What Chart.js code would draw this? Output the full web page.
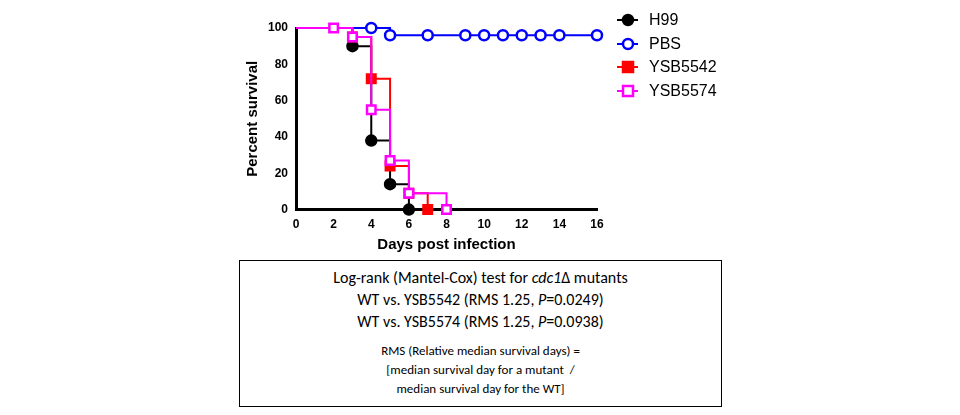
<!DOCTYPE html>
<html><head><meta charset="utf-8">
<script src="https://cdn.jsdelivr.net/npm/chart.js@4"></script>
<style>
body{margin:0;background:#fff;width:960px;height:415px;position:relative;font-family:Calibri,Carlito,"Liberation Sans",Arial,sans-serif;}
#wrap{position:absolute;left:240px;top:0;width:480px;height:258px;}
#box{position:absolute;left:239px;top:260px;width:481px;height:145px;border:1px solid #000;text-align:center;color:#000;}
#box .big{font-size:16px;line-height:22px;}
#box .small{font-size:13px;line-height:19px;}
</style></head><body>
<div id="wrap"><canvas id="c"></canvas></div>
<div id="box">
<div class="big" style="margin-top:6px">Log-rank (Mantel-Cox) test for <i>cdc1</i>Δ mutants</div>
<div class="big">WT vs. YSB5542 (RMS 1.25, <i>P</i>=0.0249)</div>
<div class="big">WT vs. YSB5574 (RMS 1.25, <i>P</i>=0.0938)</div>
<div class="small" style="margin-top:8px">RMS (Relative median survival days) =</div>
<div class="small">[median survival day for a mutant&nbsp; /</div>
<div class="small">median survival day for the WT]</div>
</div>
<script>
const h99Days = [0, 3, 4, 5, 6];
const h99Surv = [100, 90, 38, 14, 0];
const pbsDays = [0, 4, 5, 7, 9, 10, 11, 12, 13, 14, 16];
const pbsSurv = [100, 100, 96, 96, 96, 96, 96, 96, 96, 96, 96];
const y5542Days = [0, 3, 4, 5, 6, 7];
const y5542Surv = [100, 95, 72, 24, 9, 0];
const y5574Days = [0, 2, 3, 4, 5, 6, 8];
const y5574Surv = [100, 100, 95, 55, 27, 9, 0];
const xTicks = [0, 2, 4, 6, 8, 10, 12, 14, 16];
const yTicks = [0, 20, 40, 60, 80, 100];

const series = [
  {label:'H99', days:h99Days, surv:h99Surv, color:'#000000', style:'circle', fill:true, r:5},
  {label:'PBS', days:pbsDays, surv:pbsSurv, color:'#0000ff', style:'circle', fill:false, r:5},
  {label:'YSB5542', days:y5542Days, surv:y5542Surv, color:'#ff0000', style:'rect', fill:true, r:6},
  {label:'YSB5574', days:y5574Days, surv:y5574Surv, color:'#ff00ff', style:'rect', fill:false, r:6}
];

const datasets = series.map((s, i) => ({
  label: s.label,
  data: s.days.map((d, j) => ({x: d, y: s.surv[j]})),
  order: series.length - i,
  borderColor: s.color,
  borderWidth: 2,
  stepped: 'before',
  pointStyle: s.style,
  pointRadius: s.days.map(d => d === 0 ? 0 : s.r),
  pointBorderWidth: 2.5,
  pointBorderColor: s.color,
  pointBackgroundColor: s.fill ? s.color : '#ffffff',
  clip: false
}));

const legendPlugin = {
  id: 'sideLegend',
  afterDraw(chart) {
    const ctx = chart.ctx;
    const x0 = 377, rows = [20, 44, 67, 91];
    series.forEach((s, i) => {
      const y = rows[i];
      ctx.save();
      ctx.strokeStyle = s.color; ctx.lineWidth = 2;
      ctx.beginPath(); ctx.moveTo(x0, y); ctx.lineTo(x0 + 21, y); ctx.stroke();
      ctx.fillStyle = s.fill ? s.color : '#fff';
      ctx.lineWidth = 2.5;
      const cx = x0 + 11;
      if (s.style === 'circle') {
        ctx.beginPath(); ctx.arc(cx, y, 5, 0, Math.PI * 2); ctx.fill(); ctx.stroke();
      } else {
        ctx.fillRect(cx - 5, y - 5, 10, 10); ctx.strokeRect(cx - 5, y - 5, 10, 10);
      }
      ctx.fillStyle = '#000'; ctx.font = '16px Arial, "Liberation Sans"';
      ctx.textBaseline = 'middle';
      ctx.fillText(s.label, x0 + 32, y + 1);
      ctx.restore();
    });
  }
};

new Chart(document.getElementById('c'), {
  type: 'line',
  data: {datasets},
  plugins: [legendPlugin],
  options: {
    responsive: true, maintainAspectRatio: false, animation: false,
    layout: {padding: {top: 28, right: 123, left: 0, bottom: 0}},
    plugins: {legend: {display: false}, tooltip: {enabled: false}},
    scales: {
      x: {
        type: 'linear', min: 0, max: 16,
        afterBuildTicks: a => { a.ticks = xTicks.map(v => ({value: v})); },
        grid: {display: false, drawTicks: true, tickLength: 6, tickColor: '#000', tickWidth: 2},
        border: {color: '#000', width: 3},
        ticks: {color: '#000', font: {family: 'Arial', size: 12, weight: 'bold'}, padding: 2},
        title: {display: true, text: 'Days post infection', color: '#000', font: {family: 'Arial', size: 15, weight: 'bold'}, padding: {top: 2}}
      },
      y: {
        min: 0, max: 100,
        afterBuildTicks: a => { a.ticks = yTicks.map(v => ({value: v})); },
        grid: {display: false, drawTicks: true, tickLength: 6, tickColor: '#000', tickWidth: 2},
        border: {color: '#000', width: 3},
        ticks: {color: '#000', font: {family: 'Arial', size: 12, weight: 'bold'}, padding: 2},
        title: {display: true, text: 'Percent survival', color: '#000', font: {family: 'Arial', size: 15, weight: 'bold'}, padding: {bottom: 4}}
      }
    }
  }
});
</script>
</body></html>
